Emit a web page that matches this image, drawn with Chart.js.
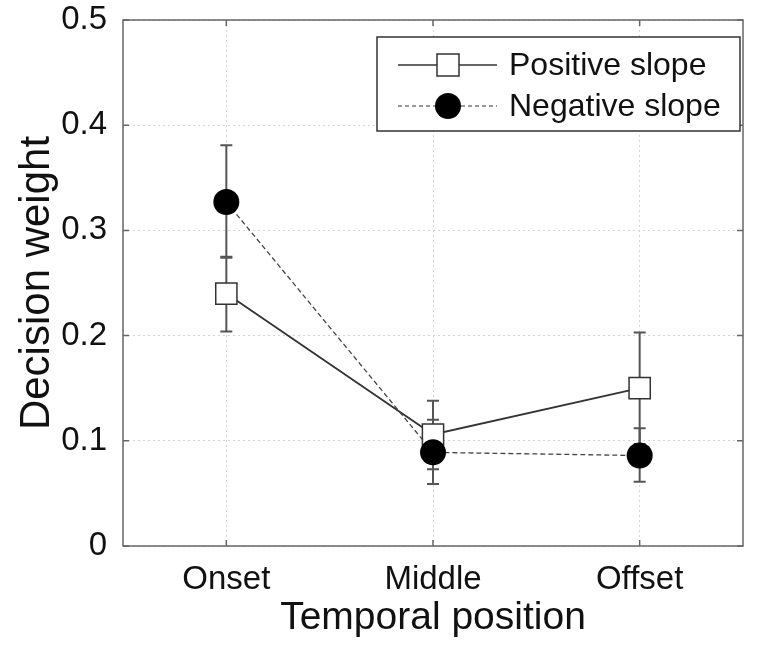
<!DOCTYPE html>
<html>
<head>
<meta charset="utf-8">
<script src="https://cdn.jsdelivr.net/npm/chart.js@4"></script>
<style>
  body { margin: 0; background: #fff; }
  #chart_div { width: 762px; height: 648px; position: relative; }
</style>
</head>
<body>
<div id="chart_div"><canvas id="first_canvas"></canvas></div>
<script>
// values
const categories = ["Onset", "Middle", "Offset"];
const positions = [1, 2, 3];
const positiveMean = [0.240, 0.106, 0.150];
const positiveLow = [0.204, 0.073, 0.097];
const positiveHigh = [0.275, 0.138, 0.203];
const negativeMean = [0.327, 0.089, 0.086];
const negativeLow = [0.274, 0.059, 0.061];
const negativeHigh = [0.381, 0.120, 0.112];
const yTicks = [0, 0.1, 0.2, 0.3, 0.4, 0.5];
const legendLabels = ["Positive slope", "Negative slope"];

const FONT = '"Liberation Sans", Arial, sans-serif';

function points(means){
  return positions.map((p, i) => ({ x: p, y: means[i] }));
}

// error bars, behind the lines and markers
const errorBars = {
  id: "errorBars",
  beforeDatasetsDraw(chart){
    const ctx = chart.ctx;
    const xs = chart.scales.x, ys = chart.scales.y;
    const sets = [[positiveLow, positiveHigh], [negativeLow, negativeHigh]];
    ctx.save();
    ctx.strokeStyle = "#555";
    ctx.lineWidth = 2;
    sets.forEach(([lo, hi]) => {
      positions.forEach((p, i) => {
        const x = xs.getPixelForValue(p);
        const y1 = ys.getPixelForValue(lo[i]);
        const y2 = ys.getPixelForValue(hi[i]);
        ctx.beginPath();
        ctx.moveTo(x, y1); ctx.lineTo(x, y2);
        ctx.moveTo(x - 6, y1); ctx.lineTo(x + 6, y1);
        ctx.moveTo(x - 6, y2); ctx.lineTo(x + 6, y2);
        ctx.stroke();
      });
    });
    ctx.restore();
  }
};

// box round the plot, inward ticks and the legend
const boxAndLegend = {
  id: "boxAndLegend",
  afterDraw(chart){
    const ctx = chart.ctx;
    const a = chart.chartArea;
    const xs = chart.scales.x, ys = chart.scales.y;
    ctx.save();
    ctx.strokeStyle = "#666";
    ctx.lineWidth = 1.5;
    ctx.strokeRect(a.left, a.top, a.right - a.left, a.bottom - a.top);
    ctx.beginPath();
    yTicks.forEach(v => {
      const y = ys.getPixelForValue(v);
      ctx.moveTo(a.left, y); ctx.lineTo(a.left + 6, y);
      ctx.moveTo(a.right, y); ctx.lineTo(a.right - 6, y);
    });
    positions.forEach(p => {
      const x = xs.getPixelForValue(p);
      ctx.moveTo(x, a.bottom); ctx.lineTo(x, a.bottom - 6);
      ctx.moveTo(x, a.top); ctx.lineTo(x, a.top + 6);
    });
    ctx.stroke();

    // legend
    const lx = 377, ly = 37, lw = 363, lh = 94;
    ctx.fillStyle = "#fff";
    ctx.fillRect(lx, ly, lw, lh);
    ctx.strokeStyle = "#333";
    ctx.lineWidth = 1.5;
    ctx.strokeRect(lx, ly, lw, lh);

    const rows = [ly + 28, ly + 69];
    // positive row
    ctx.strokeStyle = "#333";
    ctx.setLineDash([]);
    ctx.beginPath(); ctx.moveTo(398, rows[0]); ctx.lineTo(497, rows[0]); ctx.stroke();
    ctx.fillStyle = "#fff";
    ctx.fillRect(437, rows[0] - 11, 22, 22);
    ctx.strokeRect(437, rows[0] - 11, 22, 22);
    // negative row
    ctx.setLineDash([4, 3]);
    ctx.lineWidth = 1.2;
    ctx.beginPath(); ctx.moveTo(398, rows[1]); ctx.lineTo(497, rows[1]); ctx.stroke();
    ctx.setLineDash([]);
    ctx.fillStyle = "#000";
    ctx.beginPath(); ctx.arc(448, rows[1], 13, 0, Math.PI * 2); ctx.fill();

    ctx.fillStyle = "#111";
    ctx.font = "32px " + FONT;
    ctx.textBaseline = "middle";
    ctx.textAlign = "left";
    ctx.fillText(legendLabels[0], 509, rows[0] + 1);
    ctx.fillText(legendLabels[1], 509, rows[1] + 1);
    ctx.restore();
  }
};

const data = {
  datasets: [{
    label: legendLabels[0],
    data: points(positiveMean),
    borderColor: "#333",
    borderWidth: 1.8,
    pointStyle: "rect",
    pointRadius: 15,
    pointBackgroundColor: "#fff",
    pointBorderColor: "#333",
    pointBorderWidth: 1.5,
    order: 2
  }, {
    label: legendLabels[1],
    data: points(negativeMean),
    borderColor: "#444",
    borderWidth: 1.3,
    borderDash: [5, 3],
    pointStyle: "circle",
    pointRadius: 13,
    pointBackgroundColor: "#000",
    pointBorderColor: "#000",
    pointBorderWidth: 0,
    order: 1
  }]
};

const chart_1 = new Chart(document.getElementById("first_canvas"), {
  type: "line",
  data: data,
  plugins: [errorBars, boxAndLegend],
  options: {
    responsive: true,
    maintainAspectRatio: false,
    animation: false,
    layout: { padding: { top: 20, right: 19, left: 0, bottom: 0 } },
    plugins: { legend: { display: false }, tooltip: { enabled: false } },
    scales: {
      x: {
        type: "linear",
        min: 0.5,
        max: 3.5,
        afterBuildTicks: s => { s.ticks = positions.map(v => ({ value: v })); },
        afterFit: s => { s.height = 102; s.paddingLeft = 0; s.paddingRight = 0; },
        grid: { color: "#d4d4d4", lineWidth: 1, drawTicks: false },
        border: { display: false, dash: [2, 3] },
        ticks: {
          padding: 14,
          color: "#111",
          font: { family: FONT, size: 33 },
          callback: v => categories[positions.indexOf(v)] ?? ""
        },
        title: {
          display: true,
          text: "Temporal position",
          color: "#111",
          font: { family: FONT, size: 39 },
          padding: { top: 0, bottom: 6 }
        }
      },
      y: {
        min: 0,
        max: 0.5,
        afterBuildTicks: s => { s.ticks = yTicks.map(v => ({ value: v })); },
        afterFit: s => { s.width = 123; s.paddingTop = 0; s.paddingBottom = 0; },
        grid: { color: "#d4d4d4", lineWidth: 1, drawTicks: false },
        border: { display: false, dash: [2, 3] },
        ticks: {
          padding: 16,
          color: "#111",
          font: { family: FONT, size: 33 },
          callback: v => v === 0 ? "0" : v.toFixed(1)
        },
        title: {
          display: true,
          text: "Decision weight",
          color: "#111",
          font: { family: FONT, size: 42 },
          padding: { top: 12, bottom: 0 }
        }
      }
    }
  }
});
</script>
</body>
</html>
